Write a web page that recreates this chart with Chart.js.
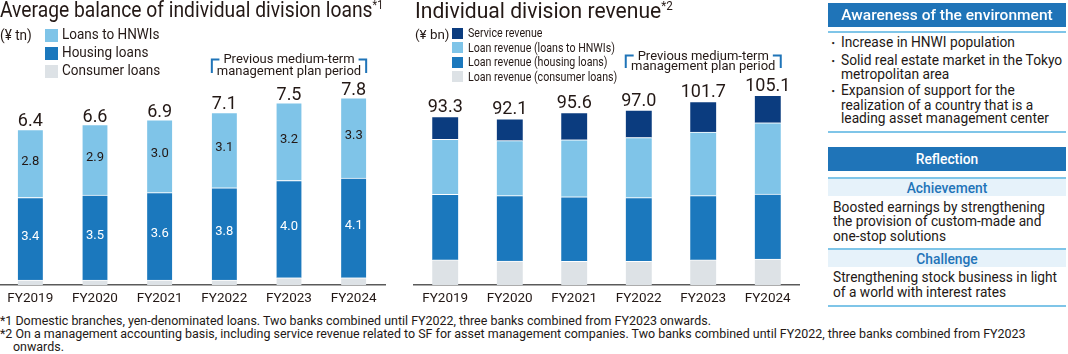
<!DOCTYPE html>
<html>
<head>
<meta charset="utf-8">
<script src="https://cdn.jsdelivr.net/npm/chart.js@4"></script>
<style>
  body { margin: 0; background: #fff; }
  #page { position: relative; width: 1068px; height: 354px; overflow: hidden; background: #fff; font-family: Roboto, sans-serif; color: #231815; }
  .tx { position: absolute; white-space: nowrap; transform-origin: 0 50%; }
  .box { position: absolute; }
  .cv { position: absolute; top: 0; height: 312px; }
  sup { font-size: 0.55em; line-height: 0; vertical-align: 0.7em; }
</style>
</head>
<body>
<div id="page">
  <div class="cv" style="left:-2px;width:388px"><canvas id="loans"></canvas></div>
  <div class="cv" style="left:413px;width:387px"><canvas id="revenue"></canvas></div>
</div>
<script>
const years = ['FY2019', 'FY2020', 'FY2021', 'FY2022', 'FY2023', 'FY2024'];

// average balance of loans (¥tn)
const loanHnwi = [2.8, 2.9, 3.0, 3.1, 3.2, 3.3];
const loanHousing = [3.4, 3.5, 3.6, 3.8, 4.0, 4.1];
const loanConsumer = [0.2, 0.2, 0.2, 0.2, 0.3, 0.3];
const loanTotals = [6.4, 6.6, 6.9, 7.1, 7.5, 7.8];

// division revenue (¥bn)
const revService = [12.5, 12.1, 15.1, 15.3, 16.9, 15.2];
const revHnwi = [30.5, 30.5, 31.6, 33.3, 35.3, 39.5];
const revHousing = [36.4, 36.2, 35.8, 35.3, 35.6, 36.0];
const revConsumer = [13.9, 13.3, 13.1, 13.1, 13.9, 14.4];
const revTotals = [93.3, 92.1, 95.6, 97.0, 101.7, 105.1];

const C_HNWI = '#7fc4e8';
const C_HOUSING = '#1b78bd';
const C_CONSUMER = '#dde2e6';
const C_SERVICE = '#0b3c7f';
const C_HEAD = '#1f74b8';
const C_LINE = '#7fc5e8';
const INK = '#231815';

Chart.defaults.font.family = 'Roboto';

const page = document.getElementById('page');

function put(html, x, cy, size, opt = {}) {
    const el = document.createElement('div');
    el.className = 'tx';
    el.innerHTML = html;
    el.style.left = x + 'px';
    el.style.top = (cy - size / 2) + 'px';
    el.style.fontSize = size + 'px';
    el.style.lineHeight = size + 'px';
    if (opt.color) el.style.color = opt.color;
    if (opt.weight) el.style.fontWeight = opt.weight;
    if (opt.center) {
        el.style.transformOrigin = '50% 50%';
        el.dataset.pre = 'translateX(-50%) ';
        el.style.transform = 'translateX(-50%)';
    }
    page.appendChild(el);
    return el;
}

function rect(x, y, w, h, color) {
    const el = document.createElement('div');
    el.className = 'box';
    Object.assign(el.style, { left: x + 'px', top: y + 'px', width: w + 'px', height: h + 'px', background: color });
    page.appendChild(el);
    return el;
}

// squeeze a group of texts by the factor that makes ref as wide as width
function squeeze(els, ref, width) {
    const k = width / ref.offsetWidth;
    els.forEach(el => { el.style.transform = (el.dataset.pre || '') + `scaleX(${k})`; });
}

// ---- titles
const t1 = put('Average balance of individual division loans<sup>*1</sup>', 0, 10, 22);
squeeze([t1], t1, 383);
const t2 = put('Individual division revenue<sup>*2</sup>', 415, 10.5, 22);
squeeze([t2], t2, 258);

// ---- legends
const leftLegend = [['Loans to HNWIs', C_HNWI], ['Housing loans', C_HOUSING], ['Consumer loans', C_CONSUMER]];
const u1 = put('(¥ tn)', 0, 35, 14);
squeeze([u1], u1, 32);
const ll = leftLegend.map(([name, color], i) => {
    const cy = 35 + i * 18;
    rect(45, cy - 6.5, 13, 13, color);
    return put(name, 62, cy, 14.5);
});
squeeze(ll, ll[2], 98);

const rightLegend = [['Service revenue', C_SERVICE], ['Loan revenue (loans to HNWIs)', C_HNWI],
    ['Loan revenue (housing loans)', C_HOUSING], ['Loan revenue (consumer loans)', C_CONSUMER]];
const u2 = put('(¥ bn)', 415, 34, 13);
squeeze([u2], u2, 35);
const rl = rightLegend.map(([name, color], i) => {
    const cy = 33 + i * 14.6;
    rect(452, cy - 5.5, 11, 11, color);
    return put(name, 468, cy, 13.5);
});
squeeze(rl, rl[3], 149);

// ---- right panel
const PX = 828, PW = 238;
function header(text, y) {
    rect(PX, y, PW, 24, C_HEAD);
    return put(text, PX + PW / 2, y + 12, 15, { color: '#fff', weight: 500, center: true });
}
const h1 = header('Awareness of the environment', 3);
squeeze([h1], h1, 211);
rect(PX, 31, PW, 2, C_LINE);
const bullets = [
    [43, 'Increase in HNWI population', true],
    [61, 'Solid real estate market in the Tokyo', true],
    [75, 'metropolitan area', false],
    [91, 'Expansion of support for the', true],
    [106, 'realization of a country that is a', false],
    [119, 'leading asset management center', false]
];
const bl = bullets.map(([cy, text, dot]) => {
    if (dot) put('・', 826, cy, 14);
    return put(text, 841, cy, 14.5);
});
squeeze(bl, bl[1], 221);
rect(PX, 131, PW, 2, C_LINE);

const h2 = header('Reflection', 147);
squeeze([h2], h2, h2.offsetWidth * 0.92);

function band(text, y) {
    rect(PX, y, PW, 2, C_LINE);
    rect(PX, y + 2, PW, 17, '#e6f2fa');
    const b = put(text, PX + PW / 2, y + 11, 15, { color: C_HEAD, weight: 500, center: true });
    squeeze([b], b, b.offsetWidth * 0.92);
}
band('Achievement', 177);
const ach = [[208, 'Boosted earnings by strengthening'], [222, 'the provision of custom-made and'], [237, 'one-stop solutions']]
    .map(([cy, text]) => put(text, 833, cy, 14.5));
squeeze(ach, ach[0], 212);
band('Challenge', 248);
const cha = [[278, 'Strengthening stock business in light'], [293, 'of a world with interest rates']]
    .map(([cy, text]) => put(text, 833, cy, 14.5));
squeeze(cha, cha[0], 224);
rect(PX, 305, PW, 2, C_LINE);

// ---- footnotes
const f1 = put('*1 Domestic branches, yen-denominated loans. Two banks combined until FY2022, three banks combined from FY2023 onwards.', 0, 321, 12.5);
const f2 = put('*2 On a management accounting basis, including service revenue related to SF for asset management companies. Two banks combined until FY2022, three banks combined from FY2023', 0, 334, 12.5);
const f3 = put('onwards.', 13, 347, 12.5);
squeeze([f1, f2, f3], f2, 1026);

// ---- chart labels plugin: totals, inner values, plan-period bracket
const barText = {
    id: 'barText',
    afterDatasetsDraw(chart, args, opts) {
        const ctx = chart.ctx;
        const n = chart.data.datasets.length;
        ctx.save();
        ctx.textAlign = 'center';
        ctx.textBaseline = 'alphabetic';

        ctx.font = `${opts.totalSize}px Roboto`;
        ctx.fillStyle = INK;
        chart.getDatasetMeta(n - 1).data.forEach((bar, i) => {
            ctx.fillText(opts.totals[i].toFixed(1), bar.x, bar.y - opts.gap);
        });

        ctx.font = '13px Roboto';
        chart.data.datasets.forEach((ds, di) => {
            if (!ds.inner) return;
            ctx.fillStyle = ds.inner;
            chart.getDatasetMeta(di).data.forEach((bar, i) => {
                ctx.fillText(ds.data[i].toFixed(1), bar.x, (bar.y + bar.base) / 2 + 1);
            });
        });

        const b = opts.bracket;
        const bars = chart.getDatasetMeta(0).data;
        const x0 = bars[b.from].x - bars[b.from].width / 2;
        const x1 = bars[b.to].x + bars[b.to].width / 2;
        const mid = (x0 + x1) / 2;
        ctx.font = '13px Roboto';
        ctx.fillStyle = INK;
        const tw = ctx.measureText(b.lines[0]).width;
        const seg = (x1 - x0 - tw) / 2 - 4;
        ctx.strokeStyle = C_HEAD;
        ctx.lineWidth = 2;
        ctx.beginPath();
        ctx.moveTo(x0, b.bottom); ctx.lineTo(x0, b.top); ctx.lineTo(x0 + seg, b.top);
        ctx.moveTo(x1 - seg, b.top); ctx.lineTo(x1, b.top); ctx.lineTo(x1, b.bottom);
        ctx.stroke();
        b.lines.forEach((line, i) => ctx.fillText(line, mid, b.textY[i] + 4.5));
        ctx.restore();
    }
};

const planLines = ['Previous medium-term', 'management plan period'];

function makeChart(id, datasets, max, top, thickness, labelOpts) {
    return new Chart(document.getElementById(id), {
        type: 'bar',
        data: { labels: years, datasets },
        options: {
            responsive: true,
            maintainAspectRatio: false,
            animation: false,
            layout: { padding: { top, left: 0, right: 0, bottom: 0 } },
            datasets: { bar: { barThickness: thickness, borderColor: '#fff', borderWidth: { top: 1 }, borderSkipped: false } },
            plugins: { legend: { display: false }, tooltip: { enabled: false }, barText: labelOpts },
            scales: {
                x: {
                    stacked: true,
                    grid: { display: false, drawTicks: false },
                    border: { display: true, color: '#5a5a5a', width: 1.5 },
                    ticks: { color: INK, font: { size: 13.5 }, padding: 6 },
                    afterFit: s => { s.height = 27; }
                },
                y: { stacked: true, display: false, min: 0, max }
            }
        },
        plugins: [barText]
    });
}

makeChart('loans', [
    { label: 'Consumer loans', data: loanConsumer, backgroundColor: C_CONSUMER },
    { label: 'Housing loans', data: loanHousing, backgroundColor: C_HOUSING, inner: '#fff' },
    { label: 'Loans to HNWIs', data: loanHnwi, backgroundColor: C_HNWI, inner: INK }
], 8, 285 - 8 * 24.3, 25, {
    totals: loanTotals, totalSize: 18, gap: 3,
    bracket: { from: 3, to: 5, top: 59.5, bottom: 73, textY: [58.3, 70], lines: planLines }
});

makeChart('revenue', [
    { label: 'Loan revenue (consumer loans)', data: revConsumer, backgroundColor: C_CONSUMER },
    { label: 'Loan revenue (housing loans)', data: revHousing, backgroundColor: C_HOUSING },
    { label: 'Loan revenue (loans to HNWIs)', data: revHnwi, backgroundColor: C_HNWI },
    { label: 'Service revenue', data: revService, backgroundColor: C_SERVICE }
], 110, 285 - 110 * 1.804, 26, {
    totals: revTotals, totalSize: 18, gap: 4.5,
    bracket: { from: 3, to: 5, top: 55.5, bottom: 68, textY: [55, 65.8], lines: planLines }
});
</script>
</body>
</html>
